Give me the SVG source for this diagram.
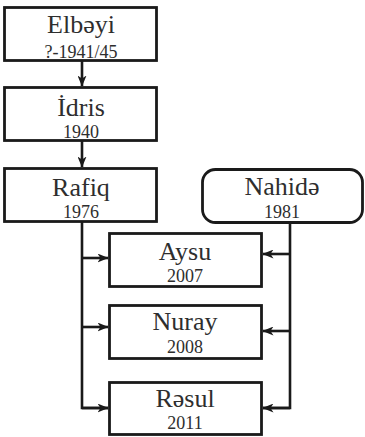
<svg xmlns="http://www.w3.org/2000/svg" width="365" height="437" viewBox="0 0 365 437">
<style>
.box{fill:#fff;stroke:#1a1a1a;stroke-width:2.8}
.t{font-family:"Liberation Serif","Times New Roman",serif;font-size:26px;fill:#2e2e2e;text-anchor:middle}
.y{font-family:"Liberation Serif","Times New Roman",serif;font-size:18px;fill:#2e2e2e;text-anchor:middle}
.c{fill:none;stroke:#1a1a1a;stroke-width:2.6}
</style>
<defs>
<marker id="ah" viewBox="0 0 11 9" refX="10.5" refY="4.5" markerWidth="11" markerHeight="9" markerUnits="userSpaceOnUse" orient="auto">
<path d="M0,0 L11,4.5 L0,9 L3,4.5 Z" fill="#1a1a1a"/>
</marker>
</defs>
<rect width="365" height="437" fill="#fff"/>
<g id="connectors">
<path class="c" d="M82,61 V86" marker-end="url(#ah)"/>
<path class="c" d="M82,140 V167" marker-end="url(#ah)"/>
<path class="c" d="M82,222 V408 H108"/>
<path class="c" d="M82,258 H108" marker-end="url(#ah)"/>
<path class="c" d="M82,327 H108" marker-end="url(#ah)"/>
<path class="c" d="M82,408 H108" marker-end="url(#ah)"/>
<path class="c" d="M290,223 V408 H263"/>
<path class="c" d="M290,254 H263" marker-end="url(#ah)"/>
<path class="c" d="M290,331 H263" marker-end="url(#ah)"/>
<path class="c" d="M290,408 H263" marker-end="url(#ah)"/>
</g>
<g id="elbeyi">
<rect class="box" x="4.5" y="7.5" width="152" height="53"/>
<text class="t" x="81" y="33">Elbəyi</text>
<text class="y" x="81" y="58">?-1941/45</text>
</g>
<g id="idris">
<rect class="box" x="4.5" y="87.5" width="152" height="53"/>
<text class="t" x="81" y="116">İdris</text>
<text class="y" x="81" y="138">1940</text>
</g>
<g id="rafiq">
<rect class="box" x="4.5" y="168.5" width="152" height="53"/>
<text class="t" x="81" y="196">Rafiq</text>
<text class="y" x="81" y="218">1976</text>
</g>
<g id="nahide">
<rect class="box" x="202.5" y="169.5" width="160" height="53" rx="13" ry="13"/>
<text class="t" x="282" y="195">Nahidə</text>
<text class="y" x="282" y="218">1981</text>
</g>
<g id="aysu">
<rect class="box" x="109.5" y="233.5" width="152" height="53"/>
<text class="t" x="185" y="260">Aysu</text>
<text class="y" x="185" y="282">2007</text>
</g>
<g id="nuray">
<rect class="box" x="109.5" y="305.5" width="152" height="53"/>
<text class="t" x="185" y="330">Nuray</text>
<text class="y" x="185" y="353">2008</text>
</g>
<g id="resul">
<rect class="box" x="109.5" y="382.5" width="152" height="52"/>
<text class="t" x="185" y="407">Rəsul</text>
<text class="y" x="185" y="429">2011</text>
</g>
</svg>
